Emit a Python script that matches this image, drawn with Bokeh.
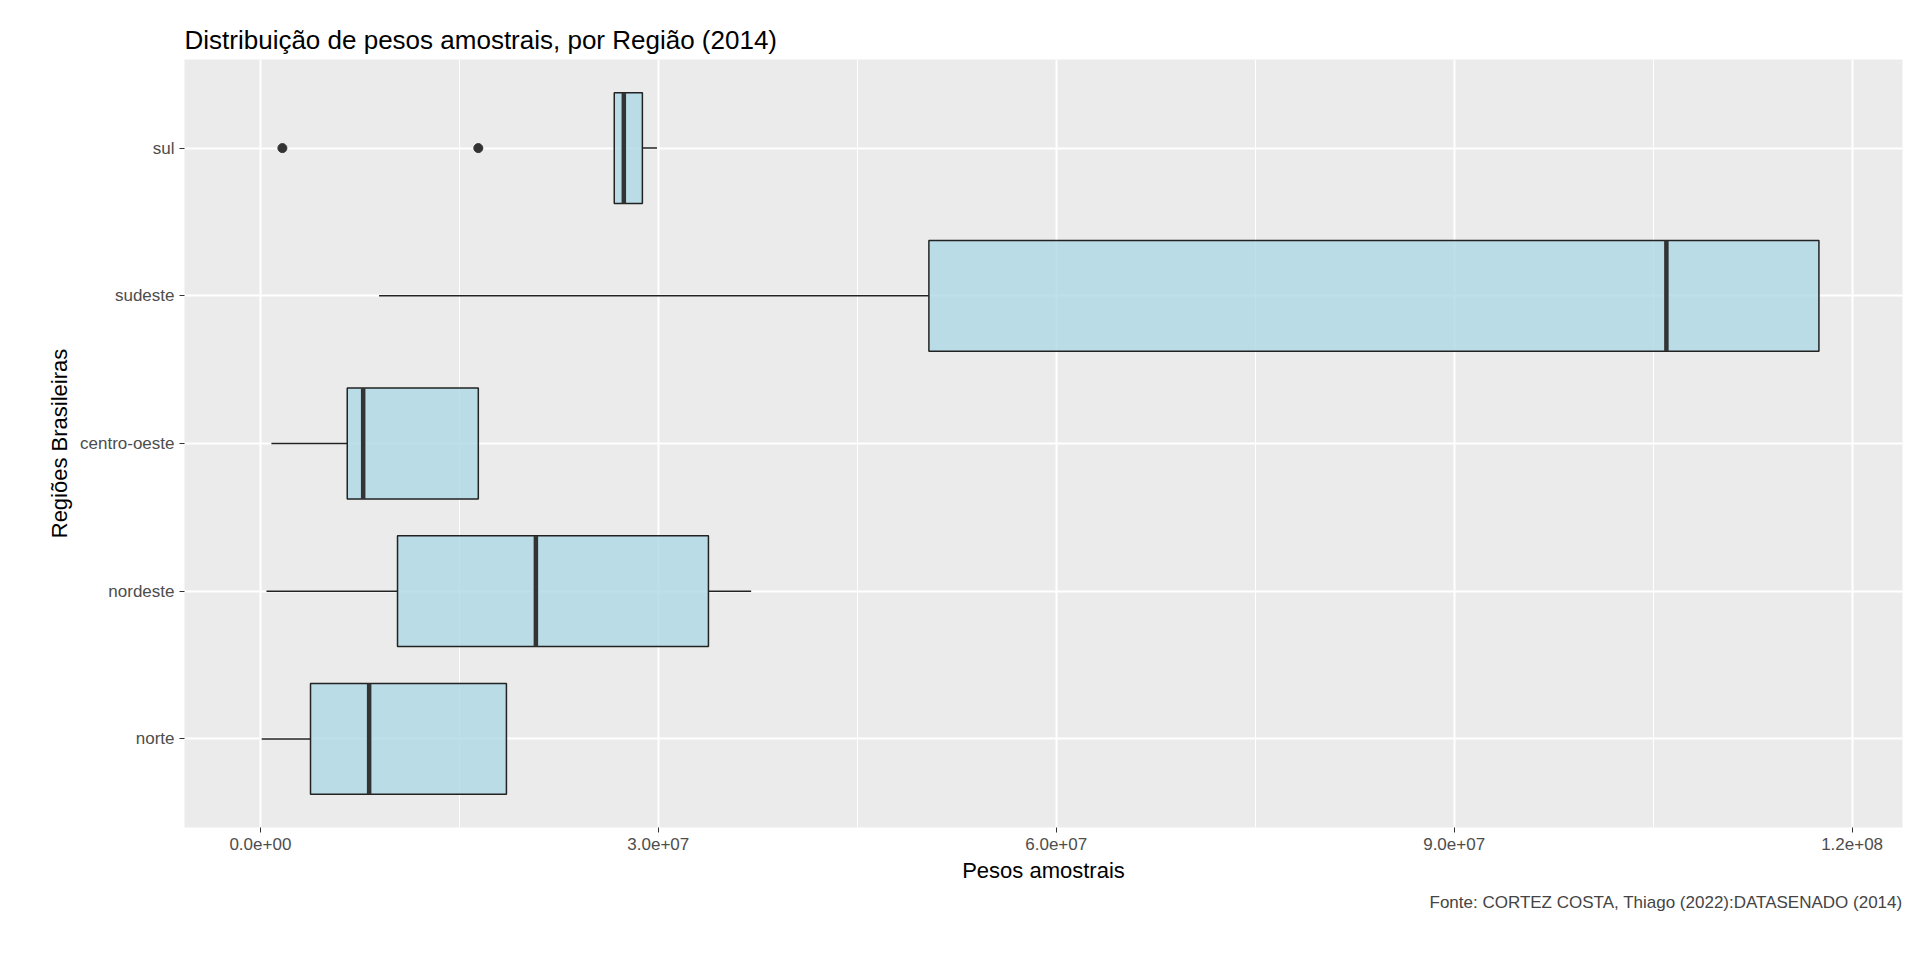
from bokeh.plotting import figure
from bokeh.models import Title, FixedTicker
from bokeh.embed import file_html
from bokeh.resources import INLINE

regioes = ["norte", "nordeste", "centro-oeste", "sudeste", "sul"]
q1 = [0.378e7, 1.034e7, 0.655e7, 5.04e7, 2.668e7]
mediana = [0.82e7, 2.077e7, 0.775e7, 10.6e7, 2.74e7]
q3 = [1.855e7, 3.378e7, 1.643e7, 11.75e7, 2.88e7]
whisk_lo = [0.01e7, 0.046e7, 0.083e7, 0.895e7, 2.668e7]
whisk_hi = [1.855e7, 3.70e7, 1.643e7, 11.75e7, 2.99e7]
outlier_x = [0.166e7, 1.643e7]
outlier_reg = ["sul", "sul"]
x_ticks = [0, 3e7, 6e7, 9e7, 1.2e8]
x_tick_labels = ["0.0e+00", "3.0e+07", "6.0e+07", "9.0e+07", "1.2e+08"]

pos = list(range(1, len(regioes) + 1))
FONT = "Liberation Sans"

p = figure(frame_width=1718, frame_height=768, output_backend="svg", toolbar_location=None,
           x_range=(-0.572e7, 12.38e7), y_range=(0.4, 5.6),
           min_border_left=184, min_border_top=59, min_border_right=2, min_border_bottom=10)
p.title.text = "Distribuição de pesos amostrais, por Região (2014)"
p.title.text_font = FONT
p.title.text_font_size = "26px"
p.title.text_font_style = "normal"
p.title.text_color = "black"
p.title.offset = 0

p.background_fill_color = "#EBEBEB"
p.outline_line_color = None
p.xgrid.grid_line_color = "white"
p.xgrid.grid_line_width = 2
p.xgrid.minor_grid_line_color = "white"
p.xgrid.minor_grid_line_width = 1
p.ygrid.grid_line_color = "white"
p.ygrid.grid_line_width = 2

p.xaxis.ticker = FixedTicker(ticks=x_ticks, minor_ticks=[1.5e7, 4.5e7, 7.5e7, 10.5e7])
p.xaxis.major_label_overrides = {t: l for t, l in zip(x_ticks, x_tick_labels)}
p.yaxis.ticker = FixedTicker(ticks=pos)
p.yaxis.major_label_overrides = {i: r for i, r in zip(pos, regioes)}
for ax in (p.xaxis, p.yaxis):
    ax.axis_line_color = None
    ax.major_tick_line_color = "#333333"
    ax.major_tick_out = 5
    ax.major_tick_in = 0
    ax.minor_tick_line_color = None
    ax.major_label_text_font = FONT
    ax.major_label_text_font_size = "17px"
    ax.major_label_text_color = "#4D4D4D"
    ax.axis_label_text_font = FONT
    ax.axis_label_text_font_size = "22px"
    ax.axis_label_text_font_style = "normal"
    ax.axis_label_text_color = "black"
p.xaxis.axis_label = "Pesos amostrais"
p.yaxis.axis_label = "Regiões Brasileiras"

h = 0.375
p.segment(x0=whisk_lo, x1=q1, y0=pos, y1=pos, line_color="#222222", line_width=1.5)
p.segment(x0=q3, x1=whisk_hi, y0=pos, y1=pos, line_color="#222222", line_width=1.5)
p.quad(left=q1, right=q3, bottom=[y - h for y in pos], top=[y + h for y in pos],
       fill_color="#ADD8E6", fill_alpha=0.8, line_color="#222222", line_width=1.5)
p.segment(x0=mediana, x1=mediana, y0=[y - h for y in pos], y1=[y + h for y in pos],
          line_color="#333333", line_width=4.5)
p.scatter(x=outlier_x, y=[pos[regioes.index(r)] for r in outlier_reg], size=9,
          color="#333333")

p.add_layout(Title(text="Fonte: CORTEZ COSTA, Thiago (2022):DATASENADO (2014)", align="right",
                   text_font=FONT, text_font_size="17px", text_font_style="normal"), "below")

open("out.html", "w").write(file_html(p, INLINE))
